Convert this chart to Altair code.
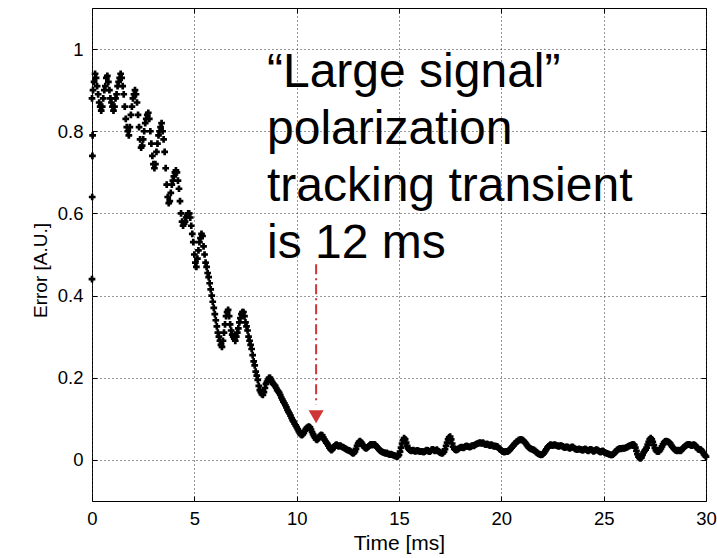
import altair as alt
import pandas as pd

# ---- data (Error in A.U. vs Time in ms) ----
# first samples at the very start of the trace
start_time = [0.0, 0.01, 0.02, 0.03]
start_err = [0.44, 0.64, 0.74, 0.79]

# main trace, one row per millisecond, samples every 0.05 ms
err_00 = [0.88, 0.90, 0.92, 0.94, 0.93, 0.91, 0.89, 0.87, 0.86, 0.85, 0.86, 0.88, 0.90, 0.91, 0.93, 0.935, 0.92, 0.90, 0.88, 0.87]
err_01 = [0.86, 0.85, 0.86, 0.88, 0.89, 0.91, 0.92, 0.93, 0.94, 0.93, 0.91, 0.89, 0.86, 0.83, 0.81, 0.80, 0.79, 0.81, 0.84, 0.86]
err_02 = [0.88, 0.89, 0.90, 0.89, 0.87, 0.84, 0.81, 0.78, 0.76, 0.765, 0.78, 0.80, 0.82, 0.83, 0.84, 0.845, 0.83, 0.80, 0.77, 0.74]
err_03 = [0.72, 0.71, 0.72, 0.75, 0.77, 0.79, 0.80, 0.81, 0.82, 0.80, 0.78, 0.75, 0.71, 0.67, 0.64, 0.625, 0.63, 0.65, 0.67, 0.68]
err_04 = [0.69, 0.70, 0.705, 0.70, 0.68, 0.66, 0.63, 0.60, 0.58, 0.57, 0.575, 0.58, 0.59, 0.595, 0.60, 0.60, 0.59, 0.57, 0.55, 0.53]
err_05 = [0.50, 0.48, 0.47, 0.49, 0.51, 0.53, 0.54, 0.55, 0.545, 0.52, 0.50, 0.48, 0.47, 0.455, 0.445, 0.43, 0.415, 0.40, 0.385, 0.37]
err_06 = [0.355, 0.34, 0.325, 0.31, 0.30, 0.29, 0.28, 0.275, 0.29, 0.31, 0.33, 0.35, 0.36, 0.365, 0.35, 0.33, 0.315, 0.305, 0.30, 0.295]
err_07 = [0.29, 0.30, 0.31, 0.32, 0.335, 0.345, 0.355, 0.36, 0.36, 0.35, 0.335, 0.325, 0.315, 0.30, 0.29, 0.28, 0.27, 0.255, 0.24, 0.23]
err_08 = [0.215, 0.205, 0.195, 0.18, 0.17, 0.165, 0.16, 0.158, 0.165, 0.175, 0.185, 0.19, 0.195, 0.20, 0.20, 0.195, 0.19, 0.185, 0.183, 0.18]
err_09 = [0.175, 0.17, 0.167, 0.163, 0.158, 0.152, 0.147, 0.142, 0.138, 0.133, 0.128, 0.122, 0.117, 0.113, 0.108, 0.102, 0.097, 0.093, 0.088, 0.084]
err_10 = [0.08, 0.075, 0.07, 0.066, 0.062, 0.06, 0.062, 0.066, 0.071, 0.075, 0.078, 0.08, 0.081, 0.079, 0.074, 0.068, 0.063, 0.058, 0.054, 0.05]
err_11 = [0.049, 0.052, 0.056, 0.059, 0.061, 0.06, 0.055, 0.05, 0.046, 0.042, 0.039, 0.035, 0.03, 0.026, 0.024, 0.026, 0.03, 0.033, 0.036, 0.037]
err_12 = [0.035, 0.033, 0.035, 0.034, 0.032, 0.031, 0.03, 0.028, 0.027, 0.025, 0.024, 0.023, 0.022, 0.02, 0.018, 0.016, 0.017, 0.021, 0.027, 0.034]
err_13 = [0.04, 0.044, 0.046, 0.043, 0.039, 0.035, 0.031, 0.029, 0.028, 0.03, 0.032, 0.035, 0.037, 0.038, 0.036, 0.037, 0.038, 0.036, 0.033, 0.03]
err_14 = [0.027, 0.024, 0.022, 0.02, 0.019, 0.018, 0.017, 0.016, 0.017, 0.015, 0.014, 0.013, 0.014, 0.013, 0.012, 0.011, 0.01, 0.009, 0.008, 0.009]
err_15 = [0.012, 0.02, 0.03, 0.04, 0.048, 0.053, 0.05, 0.042, 0.034, 0.028, 0.025, 0.023, 0.022, 0.023, 0.024, 0.022, 0.021, 0.022, 0.023, 0.022]
err_16 = [0.021, 0.02, 0.021, 0.02, 0.019, 0.02, 0.022, 0.024, 0.023, 0.021, 0.02, 0.022, 0.025, 0.026, 0.024, 0.022, 0.023, 0.025, 0.022, 0.02]
err_17 = [0.018, 0.017, 0.016, 0.017, 0.02, 0.026, 0.034, 0.042, 0.05, 0.055, 0.057, 0.05, 0.04, 0.032, 0.027, 0.025, 0.024, 0.025, 0.027, 0.029]
err_18 = [0.03, 0.031, 0.03, 0.029, 0.031, 0.033, 0.034, 0.033, 0.032, 0.031, 0.032, 0.034, 0.035, 0.034, 0.036, 0.038, 0.039, 0.04, 0.041, 0.042]
err_19 = [0.041, 0.04, 0.042, 0.04, 0.038, 0.037, 0.039, 0.038, 0.036, 0.035, 0.037, 0.036, 0.034, 0.033, 0.034, 0.033, 0.033, 0.03, 0.027, 0.025]
err_20 = [0.023, 0.021, 0.02, 0.019, 0.02, 0.021, 0.02, 0.022, 0.024, 0.027, 0.03, 0.033, 0.036, 0.039, 0.041, 0.044, 0.046, 0.048, 0.049, 0.05]
err_21 = [0.049, 0.048, 0.046, 0.043, 0.04, 0.036, 0.033, 0.03, 0.028, 0.027, 0.026, 0.025, 0.024, 0.022, 0.019, 0.017, 0.015, 0.014, 0.013, 0.012]
err_22 = [0.013, 0.015, 0.018, 0.022, 0.026, 0.03, 0.033, 0.035, 0.037, 0.036, 0.035, 0.036, 0.037, 0.036, 0.035, 0.034, 0.033, 0.034, 0.035, 0.034]
err_23 = [0.033, 0.031, 0.03, 0.031, 0.032, 0.031, 0.029, 0.028, 0.03, 0.032, 0.031, 0.029, 0.027, 0.026, 0.025, 0.026, 0.027, 0.026, 0.025, 0.024]
err_24 = [0.024, 0.026, 0.027, 0.025, 0.023, 0.022, 0.024, 0.026, 0.025, 0.023, 0.021, 0.022, 0.024, 0.025, 0.024, 0.022, 0.02, 0.019, 0.021, 0.022]
err_25 = [0.02, 0.018, 0.017, 0.016, 0.015, 0.014, 0.013, 0.012, 0.012, 0.013, 0.015, 0.018, 0.021, 0.024, 0.026, 0.027, 0.028, 0.027, 0.028, 0.029]
err_26 = [0.028, 0.029, 0.03, 0.031, 0.033, 0.034, 0.035, 0.036, 0.037, 0.038, 0.036, 0.03, 0.022, 0.014, 0.008, 0.005, 0.004, 0.006, 0.012, 0.018]
err_27 = [0.022, 0.025, 0.03, 0.037, 0.044, 0.05, 0.053, 0.05, 0.044, 0.036, 0.029, 0.024, 0.021, 0.02, 0.021, 0.024, 0.028, 0.033, 0.038, 0.042]
err_28 = [0.045, 0.046, 0.045, 0.044, 0.043, 0.04, 0.036, 0.032, 0.029, 0.026, 0.024, 0.023, 0.022, 0.024, 0.023, 0.022, 0.024, 0.027, 0.03, 0.032]
err_29 = [0.034, 0.036, 0.037, 0.038, 0.037, 0.036, 0.035, 0.036, 0.037, 0.036, 0.034, 0.031, 0.027, 0.025, 0.026, 0.025, 0.022, 0.018, 0.014, 0.011]
err_30 = [0.008]

sample_step_ms = 0.05

x_ticks = [0, 5, 10, 15, 20, 25, 30]
y_ticks = [0, 0.2, 0.4, 0.6, 0.8, 1]

annotation_lines = ["\u201cLarge signal\u201d", "polarization", "tracking transient", "is 12 ms"]
annotation_time = [8.55]
annotation_err = [0.907]

arrow_time = [10.95]
arrow_top = [0.476]
arrow_bottom = [0.135]
arrow_head = [0.105]

# ---- build table ----
rows = [err_00, err_01, err_02, err_03, err_04, err_05, err_06, err_07, err_08, err_09,
        err_10, err_11, err_12, err_13, err_14, err_15, err_16, err_17, err_18, err_19,
        err_20, err_21, err_22, err_23, err_24, err_25, err_26, err_27, err_28, err_29, err_30]
trace = [v for r in rows for v in r]
trace_time = [round(i * sample_step_ms, 2) for i in range(len(trace))]

df = pd.DataFrame({"t": start_time + trace_time, "err": start_err + trace})

FONT = "Liberation Sans"
X_SCALE = alt.Scale(domain=[0, 30], nice=False, zero=False)
Y_SCALE = alt.Scale(domain=[-0.1, 1.1], nice=False, zero=False)
ylab = "datum.value == 0 || datum.value == 1 ? format(datum.value, 'd') : format(datum.value, '.1f')"

points = alt.Chart(df).mark_point(
    shape="cross", filled=True, size=45, color="black", opacity=1, strokeWidth=0
).encode(
    x=alt.X("t:Q", scale=X_SCALE, axis=alt.Axis(
        values=x_ticks, title="Time [ms]", orient="bottom", offset=-5, tickSize=5,
        tickColor="black", labelPadding=8, titlePadding=5, domain=False, labelFlush=False,
        labelFontSize=18.5, titleFontSize=21,
        grid=True, gridColor="#333333", gridDash=[1, 3], gridWidth=1)),
    y=alt.Y("err:Q", scale=Y_SCALE, axis=alt.Axis(
        values=y_ticks, title="Error [A.U.]", orient="left", offset=-5, tickSize=5,
        tickColor="black", labelPadding=9, titlePadding=7, domain=False, labelExpr=ylab,
        labelFlush=False, labelFontSize=18.5, titleFontSize=19, titleY=262,
        grid=True, gridColor="#333333", gridDash=[1, 3], gridWidth=1)),
)

ann_df = pd.DataFrame({"t": annotation_time, "err": annotation_err})
text = alt.Chart(ann_df).mark_text(
    text=annotation_lines, align="left", baseline="alphabetic", fontSize=48,
    lineHeight=57, font=FONT, color="black"
).encode(
    x=alt.X("t:Q", scale=X_SCALE, axis=alt.Axis(
        values=x_ticks, title=None, orient="top", offset=-5, tickSize=5,
        tickColor="black", labels=False, domain=False, grid=False)),
    y=alt.Y("err:Q", scale=Y_SCALE, axis=alt.Axis(
        values=y_ticks, title=None, orient="right", offset=-5, tickSize=5,
        tickColor="black", labels=False, domain=False, grid=False)),
)

arrow_df = pd.DataFrame({"t": arrow_time, "top": arrow_top, "bottom": arrow_bottom, "head": arrow_head})
rule = alt.Chart(arrow_df).mark_rule(
    color="#d03535", strokeWidth=2, strokeDash=[10, 4, 2, 4]
).encode(
    x=alt.X("t:Q", scale=X_SCALE, axis=None),
    y=alt.Y("top:Q", scale=Y_SCALE, axis=None),
    y2="bottom:Q",
)
head = alt.Chart(arrow_df).mark_point(
    shape="triangle-down", filled=True, size=225, color="#d03535", opacity=1, strokeWidth=0
).encode(
    x=alt.X("t:Q", scale=X_SCALE, axis=None),
    y=alt.Y("head:Q", scale=Y_SCALE, axis=None),
)

chart = alt.layer(points, text, rule, head).resolve_axis(
    x="independent", y="independent"
).properties(
    width=614, height=493,
    autosize=alt.AutoSizeParams(type="none"),
    padding={"left": 92, "top": 8, "right": 11, "bottom": 57},
    background="white",
).configure_view(
    stroke="black", strokeWidth=1
).configure_axis(
    labelFont=FONT, titleFont=FONT, titleFontWeight="normal",
    labelColor="black", titleColor="black"
)

chart.save("out.html", embed_options={"renderer": "svg", "actions": False})
